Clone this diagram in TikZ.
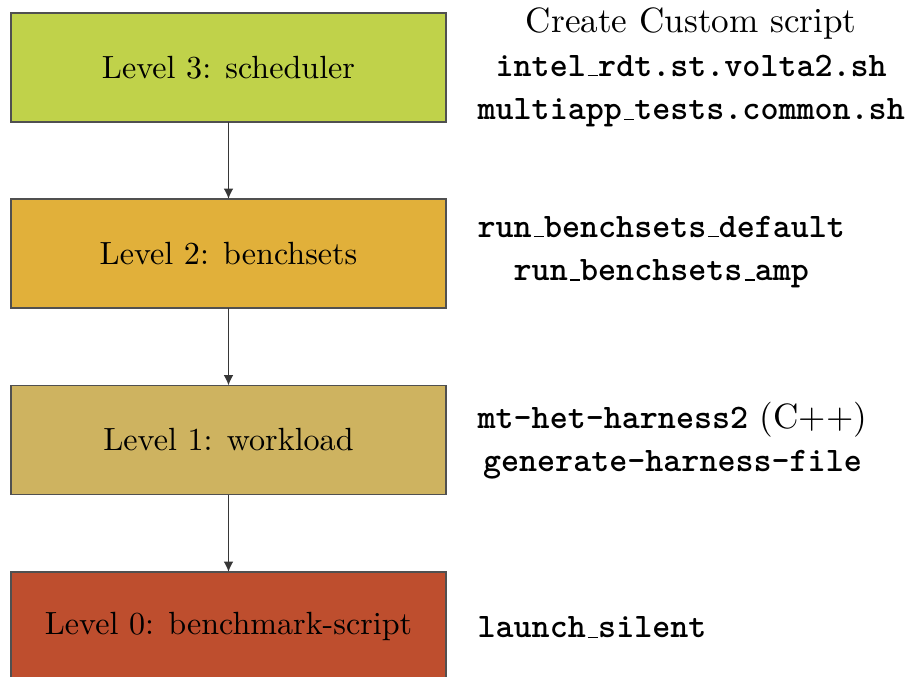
\documentclass[tikz,border=0pt]{standalone}
\usetikzlibrary{arrows.meta}
% low rule used as underscore inside typewriter names
\newcommand\usc{\leavevmode\kern.06em\vbox{\hrule width.3em}}
% bold typewriter for script and program names
\newcommand\prog[1]{{\fontsize{10.7}{13.6}\selectfont\ttfamily\bfseries #1}}
\definecolor{lvthree}{RGB}{192,210,74}
\definecolor{lvtwo}{RGB}{225,176,58}
\definecolor{lvone}{RGB}{206,179,96}
\definecolor{lvzero}{RGB}{190,78,46}
\definecolor{edgegray}{RGB}{80,80,80}
\definecolor{arrowgray}{RGB}{55,55,55}
\tikzset{
  levelbox/.style={draw=edgegray, line width=0.4pt, rectangle, inner sep=0pt, outer sep=0pt,
    minimum width=135.5pt, minimum height=34pt, font=\fontsize{10}{12}\selectfont},
  toolnote/.style={anchor=west, align=center, inner sep=0pt,
    font=\fontsize{10.95}{13.6}\selectfont},
  flow/.style={draw=arrowgray, line width=0.45pt, -{Latex[length=3.2pt,width=3pt]}}
}
\begin{document}
\begin{tikzpicture}[x=0.3115pt, y=-0.3115pt]
\useasboundingbox (0,0) rectangle (908,677);
\node[levelbox, fill=lvthree] (l3) at (228.5,67.5) {Level 3: scheduler};
\node[levelbox, fill=lvtwo]   (l2) at (228.5,253.5) {Level 2: benchsets};
\node[levelbox, fill=lvone]   (l1) at (228.5,440) {Level 1: workload};
\node[levelbox, fill=lvzero]  (l0) at (228.5,626.5) {Level 0: benchmark-script};

\draw[flow] (l3) -- (l2);
\draw[flow] (l2) -- (l1);
\draw[flow] (l1) -- (l0);

\node[toolnote] (n3) at (477,67.5) {Create Custom script\\
  \prog{intel\usc rdt.st.volta2.sh}\\
  \prog{multiapp\usc tests.common.sh}};
\node[toolnote] (n2) at (477,252) {\prog{run\usc benchsets\usc default}\\
  \prog{run\usc benchsets\usc amp}};
\node[toolnote] (n1) at (477,440.5) {\prog{mt-het-harness2} (C++)\\
  \prog{generate-harness-file}};
\node[toolnote] (n0) at (477,627.5) {\prog{launch\usc silent}};
\end{tikzpicture}
\end{document}
